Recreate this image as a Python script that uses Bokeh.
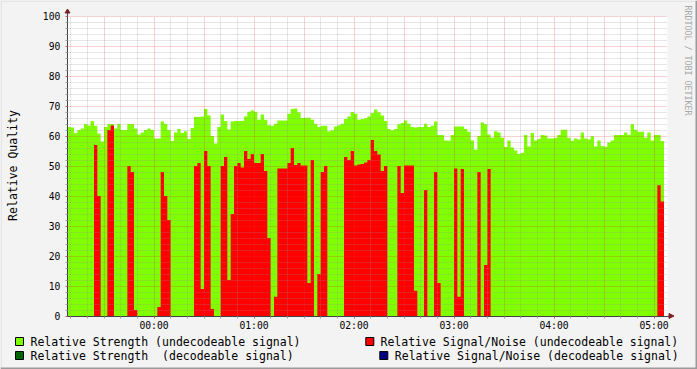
import math
from bokeh.plotting import figure
from bokeh.models import Range1d, FixedTicker
from bokeh.core.properties import value
from bokeh.embed import file_html
from bokeh.resources import INLINE

# ---------------- data ----------------
start_minute = -52          # 23:08, minutes relative to 00:00
step_minutes = 2            # one sample every 2 minutes

# Relative Strength (undecodeable signal)
strength = [
    63, 62.8, 61, 62, 62.5, 64, 63.5, 65, 63.4, 60.8,
    58.2, 63, 64, 64, 62.5, 64, 62, 62, 64, 64,
    62.5, 60.5, 61.2, 62, 62.5, 62, 59.2, 59.2, 64.8, 64,
    62, 58.3, 61.2, 62.3, 61, 61.6, 59, 62.7, 66.3, 66.3,
    66.5, 69, 66.8, 60, 57.5, 63, 67.2, 65, 62.2, 64.8,
    65, 65, 65, 66.5, 68.1, 68.5, 68.1, 65.4, 67.2, 65.4,
    63.6, 63.4, 64.1, 65.2, 65.2, 65.2, 67.4, 69, 69.2, 67.9,
    66, 66.1, 66.1, 65.4, 64.1, 63, 63.4, 63.4, 61.6, 61.9,
    63.2, 63.6, 64.1, 65.7, 66.5, 68, 67.4, 65.4, 65.7, 65.9,
    66.5, 67.7, 68.8, 67.9, 66.8, 65, 62.3, 61.9, 62.3, 63.9,
    64.3, 65.2, 64.1, 63, 62.8, 63, 63, 64.1, 63, 63.4,
    64.8, 60.3, 60.3, 58.5, 58.4, 60.3, 63.2, 63.2, 63.2, 62.3,
    61.4, 58.5, 55.4, 60, 64.5, 63.9, 60.5, 59.4, 61.6, 61.2,
    59.4, 56.3, 58.5, 56.2, 55.2, 54, 54.4, 60.3, 56.5, 61,
    58.5, 59, 60.3, 60.2, 59.2, 59.2, 59.4, 60.3, 62.1, 62.1,
    59.4, 58.4, 59.2, 58.8, 61.2, 59.2, 58.8, 59.9, 56.5, 58.5,
    56.7, 56.4, 57.8, 58.5, 60.3, 60.3, 60.3, 61.2, 60.3, 63.9,
    62.1, 61.4, 61.4, 59.4, 61.2, 58.5, 60.3, 60.3, 58.3,
]

# Relative Signal/Noise (undecodeable signal)
snr = [
    0, 0, 0, 0, 0, 0, 0, 0, 57, 40,
    0, 0, 62, 63.5, 0, 0, 0, 0, 50, 48,
    2, 0, 0, 0, 0, 0, 0, 3, 48, 40,
    32, 0, 0, 0, 0, 0, 0, 0, 50, 51,
    9, 55, 50, 2.3, 0, 0, 50, 53, 12, 34,
    50, 51, 49.5, 55, 52.3, 54, 51, 51, 54, 48.3,
    26, 0, 6.4, 49.2, 49.2, 49.2, 51, 56, 50.3, 51,
    50.2, 50.2, 11, 52, 0, 14, 48, 50, 0, 0,
    0, 0, 0, 53, 52, 55, 50.2, 50.5, 50.7, 51.2,
    52, 58.7, 55, 53.8, 48.3, 50, 0, 0, 0, 50,
    41, 50.2, 50.2, 50.2, 8.4, 0, 0, 42, 0, 0,
    48, 11, 0, 0, 0, 0, 49.2, 6.4, 49, 0,
    0, 0, 0, 48, 0, 17, 49, 0, 0, 0,
    0, 0, 0, 0, 0, 0, 0, 0, 0, 0,
    0, 0, 0, 0, 0, 0, 0, 0, 0, 0,
    0, 0, 0, 0, 0, 0, 0, 0, 0, 0,
    0, 0, 0, 0, 0, 0, 0, 0, 0, 0,
    0, 0, 0, 0, 0, 0, 0, 43.6, 38.2,
]

hour_ticks = [0, 60, 120, 180, 240, 300]
hour_labels = ["00:00", "01:00", "02:00", "03:00", "04:00", "05:00"]
y_ticks = [0, 10, 20, 30, 40, 50, 60, 70, 80, 90, 100]

legend_labels = [
    "Relative Strength (undecodeable signal)",
    "Relative Signal/Noise (undecodeable signal)",
    "Relative Strength \u00a0(decodeable signal)",
    "Relative Signal/Noise (decodeable signal)",
]
legend_colors = ["#80FF00", "#FF0000", "#006400", "#000080"]
y_title = "Relative Quality"
watermark = "RRDTOOL / TOBI OETIKER"

# ---------------- layout ----------------
W, H = 697, 369
MID_PX = 153.5    # px of 00:00
GY0 = 315.5       # px of value 0
PPV = 3.0         # px per unit
MPP = 0.6         # minutes per px
SPAN = 360        # minutes shown
BG = "#F3F3F3"
MONO = "DejaVu Sans Mono"


def X(px):
    return (px - MID_PX) * MPP


def Y(py):
    return (GY0 - py) / PPV


n = len(strength)
times = [start_minute + step_minutes * i for i in range(n + 1)]
zeros = [0] * (n + 1)
g_top = strength + [strength[-1]]
r_top = snr + [snr[-1]]

p = figure(width=W, height=H, x_range=Range1d(X(0), X(W)), y_range=Range1d(Y(H), Y(0)),
           output_backend="svg", toolbar_location=None, min_border=0,
           background_fill_color=BG, border_fill_color=BG, outline_line_color=None)

# graph canvas
p.quad(left=[start_minute], right=[start_minute + SPAN], bottom=[0], top=[100],
       fill_color="white", line_color=None)

# areas
p.varea_step(x=times, y1=zeros, y2=g_top, step_mode="after", fill_color="#80FF00")
p.varea_step(x=times, y1=zeros, y2=r_top, step_mode="after", fill_color="#FF0000")

# axes
xa = p.xaxis[0]
ya = p.yaxis[0]
xa.fixed_location = 0
ya.fixed_location = start_minute
ten_min = [m for m in range(-50, start_minute + SPAN, 10) if m % 60 != 0]
xa.ticker = FixedTicker(ticks=hour_ticks, minor_ticks=ten_min)
xa.major_label_overrides = {t: l for t, l in zip(hour_ticks, hour_labels)}
xa.bounds = (start_minute, X(669))
ya.ticker = FixedTicker(ticks=y_ticks, minor_ticks=[v for v in range(2, 100, 2) if v % 10])
ya.bounds = (0, Y(11))
for ax, standoff in ((xa, 2), (ya, 5)):
    ax.axis_line_color = "#404048"
    ax.axis_line_width = 1
    ax.major_tick_line_color = "#C06060"
    ax.minor_tick_line_color = "#A0A0A0"
    ax.major_tick_in = 0
    ax.major_tick_out = 2
    ax.minor_tick_in = 0
    ax.minor_tick_out = 2
    ax.major_label_text_font = MONO
    ax.major_label_text_font_size = "9.7px"
    ax.major_label_text_color = "#000000"
    ax.major_label_standoff = standoff
    ax.axis_label = None

# grids (drawn over the bars, like rrdtool)
xg = p.xgrid[0]
yg = p.ygrid[0]
xg.ticker = FixedTicker(ticks=[m for m in range(-30, start_minute + SPAN, 30)],
                        minor_ticks=[m for m in range(-50, start_minute + SPAN, 10) if m % 30])
yg.ticker = FixedTicker(ticks=y_ticks[1:], minor_ticks=[v for v in range(2, 100, 2) if v % 10])
xg.cross_bounds = (0, 100)
yg.cross_bounds = (start_minute, start_minute + SPAN)
for g in (xg, yg):
    g.grid_line_color = "#DE3030"
    g.grid_line_alpha = 0.45
    g.grid_line_dash = "1 1"
    g.grid_line_width = 1
    g.minor_grid_line_color = "#8F8F8F"
    g.minor_grid_line_alpha = 0.45
    g.minor_grid_line_dash = "1 1"
    g.minor_grid_line_width = 1
    g.level = "overlay"

# axis arrows
arrow_c = "#7F1F1F"
p.patch(x=[X(64.5), X(69.5), X(67)], y=[Y(12.5), Y(12.5), Y(8.5)], fill_color=arrow_c, line_color=arrow_c)
p.patch(x=[X(668.5), X(668.5), X(673.5)], y=[Y(313), Y(318), Y(315.5)], fill_color=arrow_c, line_color=arrow_c)

# legend
box_left = [15, 365.3, 15, 379.3]
row_y = [341, 341, 355, 355]
text_left = [30, 380, 30, 394.3]
p.quad(left=[X(b) for b in box_left], right=[X(b + 8) for b in box_left],
       bottom=[Y(r + 4) for r in row_y], top=[Y(r - 4) for r in row_y],
       fill_color=legend_colors, line_color="black", line_width=1)
p.text(x=[X(t) for t in text_left], y=[Y(r) for r in row_y], text=legend_labels,
       text_font=value(MONO), text_font_size="11.5px", text_baseline="middle",
       text_align="left", text_color="black")

# y title
p.text(x=[X(12)], y=[Y(165)], text=[y_title], angle=math.pi / 2,
       text_font=value(MONO), text_font_size="11.5px", text_baseline="middle",
       text_align="center", text_color="black")

# watermark
p.text(x=[X(687.5)], y=[Y(5)], text=[watermark], angle=-math.pi / 2,
       text_font=value(MONO), text_font_size="8.3px", text_baseline="middle",
       text_align="left", text_color="#A8A8A8")

# outer 3D border
p.quad(left=[X(0), X(0)], right=[X(W), X(1)], bottom=[Y(1), Y(H)], top=[Y(0), Y(0)],
       fill_color="#D8D8D8", line_color=None)
p.quad(left=[X(0), X(W - 2)], right=[X(W), X(W)], bottom=[Y(H), Y(H)], top=[Y(H - 2), Y(0)],
       fill_color="#9A9A9A", line_color=None)

open("out.html", "w").write(file_html(p, INLINE))
